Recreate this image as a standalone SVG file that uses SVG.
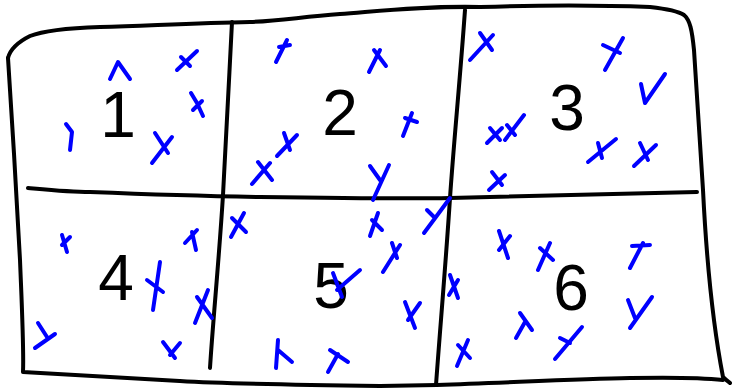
<svg xmlns="http://www.w3.org/2000/svg" width="732" height="388" viewBox="0 0 732 388">
<style>
.ink{fill:none;stroke:#000;stroke-width:4;stroke-linecap:round;stroke-linejoin:round}
.m{fill:none;stroke:#0000ff;stroke-width:4;stroke-linecap:round;stroke-linejoin:round}
.num{font-family:"Liberation Sans",Arial,sans-serif;font-size:64px;fill:#000;text-anchor:middle}
</style>
<rect width="732" height="388" fill="#fff"/>
<g id="frame">
<path class="ink" d="M8,58 C10,50 18,42 30,36 C45,30 70,28 100,27 C160,25 200,23 250,22 C280,21 300,17 340,14 C380,11 420,6 480,7 C540,5 600,5 650,7 C668,9 678,11 684,15 C690,20 692,30 694,50 C697,100 700,150 703,190 C706,250 712,320 723,377 C727,381 729,382 730,383"/>
<path class="ink" d="M8,58 C12,120 17,200 20,260 C22,310 24,350 23,372 C60,374 120,378 180,381 C230,384 300,385 380,386 L437,385 C520,382 580,379 630,378 C680,377 705,378 723,380"/>
</g>
<g id="grid">
<path class="ink" d="M28,188 C50,190 70,192 90,192 C140,194 200,196 260,197 C330,198 400,199 450,198 C520,197 600,195 697,192"/>
<path class="ink" d="M232,22 C229,80 226,140 223,195 C219,260 213,320 210,368"/>
<path class="ink" d="M465,10 C460,80 454,140 450,198 C446,260 440,330 436,385"/>
</g>
<g id="labels">
<text class="num" x="118" y="137">1</text>
<text class="num" x="340" y="135">2</text>
<text class="num" x="567" y="130">3</text>
<text class="num" x="116" y="300">4</text>
<text class="num" x="331" y="308">5</text>
<text class="num" x="571" y="310">6</text>
</g>
<g id="marks">
<path class="m" d="M110,79 L118,62 L130,79"/>
<path class="m" d="M177,70 L197,51 M181,57 L190,66"/>
<path class="m" d="M191,93 L197,103 L203,116 M202,101 L193,110"/>
<path class="m" d="M152,163 L172,137 M155,133 L168,153"/>
<path class="m" d="M66,124 L72,132 L70,150"/>
<path class="m" d="M276,62 L287,40 M279,47 L290,45"/>
<path class="m" d="M369,72 L380,50 M374,50 L386,66"/>
<path class="m" d="M403,136 L412,113 M405,118 L417,122"/>
<path class="m" d="M277,156 L297,135 M284,133 L290,150"/>
<path class="m" d="M252,184 L270,163 M258,162 L272,180"/>
<path class="m" d="M370,166 L380,180 M389,165 L373,200"/>
<path class="m" d="M470,60 L493,35 M480,33 L492,50"/>
<path class="m" d="M605,70 L623,38 M603,45 L620,53"/>
<path class="m" d="M641,84 L645,103 L665,74"/>
<path class="m" d="M487,143 L502,128 M490,128 L500,140"/>
<path class="m" d="M505,140 L524,115 M507,125 L515,135"/>
<path class="m" d="M588,162 L616,139 M598,143 L602,158"/>
<path class="m" d="M634,166 L656,145 M640,143 L648,160"/>
<path class="m" d="M489,190 L505,175 M492,172 L502,185"/>
<path class="m" d="M62,235 L67,252 M70,237 L62,245"/>
<path class="m" d="M185,243 L197,230 M192,232 L196,250"/>
<path class="m" d="M160,262 L153,310 M147,280 L163,292"/>
<path class="m" d="M195,323 L208,290 M197,297 L212,318"/>
<path class="m" d="M163,342 L175,358 M180,343 L170,355"/>
<path class="m" d="M38,323 L47,337 M55,334 L35,348"/>
<path class="m" d="M231,237 L244,213 M232,218 L246,232"/>
<path class="m" d="M370,236 L378,213 M372,220 L382,230"/>
<path class="m" d="M450,198 L424,233 M427,210 L435,218"/>
<path class="m" d="M383,272 L400,245 M392,243 L397,258"/>
<path class="m" d="M333,273 L342,297 M360,270 L337,290"/>
<path class="m" d="M405,302 L415,328 M420,303 L408,320"/>
<path class="m" d="M278,340 L276,368 M278,350 L292,362"/>
<path class="m" d="M330,350 L348,362 M338,354 L328,372"/>
<path class="m" d="M499,231 L508,258 M510,236 L499,250"/>
<path class="m" d="M538,270 L550,243 M540,248 L553,260"/>
<path class="m" d="M450,275 L458,298 M458,280 L449,295"/>
<path class="m" d="M630,268 L643,243 M632,246 L650,245"/>
<path class="m" d="M628,300 L635,318 M652,297 L630,328"/>
<path class="m" d="M520,313 L532,330 M525,322 L516,338"/>
<path class="m" d="M582,327 L555,359 M560,338 L570,343"/>
<path class="m" d="M457,366 L468,340 M458,345 L470,358"/>
</g>
</svg>
